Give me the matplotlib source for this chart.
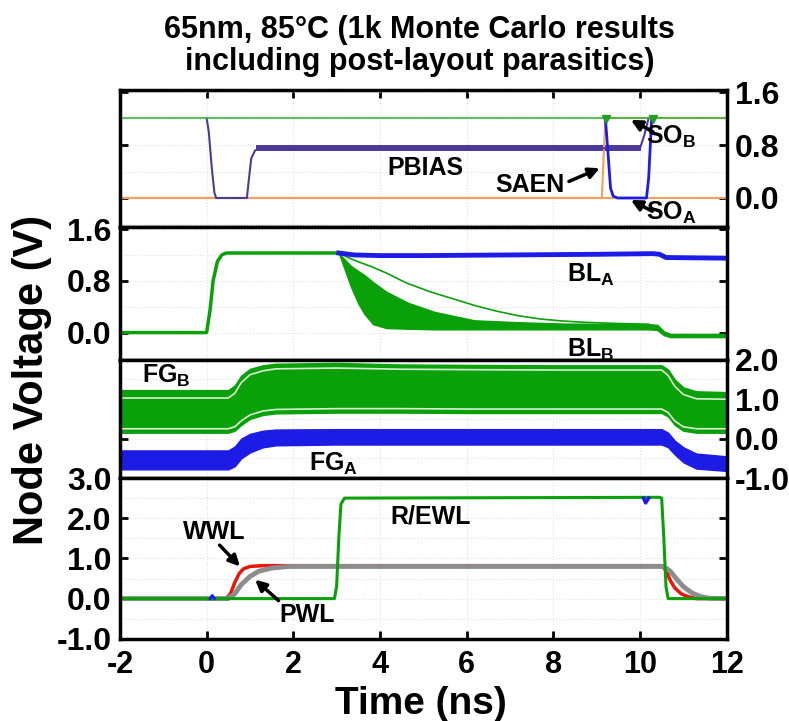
import numpy as np
import matplotlib.pyplot as plt
from matplotlib.ticker import MultipleLocator

# 字体设置
plt.rcParams['font.family'] = ['Liberation Sans', 'DejaVu Sans']
plt.rcParams['font.weight'] = 'bold'
plt.rcParams['axes.unicode_minus'] = False
plt.rcParams['mathtext.fontset'] = 'custom'
plt.rcParams['mathtext.rm'] = 'Liberation Sans:bold'
plt.rcParams['mathtext.it'] = 'Liberation Sans:bold'
plt.rcParams['mathtext.bf'] = 'Liberation Sans:bold'

# ---------------- 数据 ----------------
# 面板1: PBIAS / SAEN / SO
vdd_t = [-2, 12]
vdd_v = [1.21, 1.21]
pbias_t = [0.0, 0.05, 0.12, 0.18, 0.22, 0.93, 0.97, 1.03, 1.12, 1.3, 10.0, 10.1, 10.2]
pbias_v = [1.21, 1.0, 0.45, 0.08, 0.0, 0.0, 0.25, 0.6, 0.72, 0.75, 0.75, 0.95, 1.21]
pbias_band_t = [1.15, 10.02]
pbias_band_lo = [0.71, 0.71]
pbias_band_hi = [0.80, 0.80]
saen_t = [-2, 9.12, 9.16, 9.2, 12]
saen_v = [0, 0, 0.6, 1.21, 1.21]
sa_base_t = [-2, 12]
sa_base_v = [0, 0]
soa_t = [9.2, 9.26, 9.32, 9.38, 9.48, 10.15, 10.2, 10.27]
soa_v = [1.21, 0.7, 0.15, 0.03, 0.0, 0.0, 0.3, 1.21]
sob_t = [9.22, 10.3]
sob_v = [1.19, 1.19]

# 面板2: BL
blb_t = [-2, 0.0, 0.08, 0.15, 0.25, 0.35, 0.45, 3.05]
blb_v = [0, 0, 0.35, 0.8, 1.1, 1.2, 1.23, 1.23]
band_t = [3.05, 3.2, 3.33, 3.5, 3.64, 3.84, 4.15, 4.65, 5.26, 6.18, 7.2, 8.2, 10.2, 10.4, 10.55, 10.7, 12.0]
band_hi = [1.23, 1.12, 1.03, 0.95, 0.89, 0.78, 0.63, 0.46, 0.32, 0.19, 0.16, 0.14, 0.13, 0.12, 0.02, -0.02, -0.02]
band_lo = [1.23, 0.95, 0.71, 0.45, 0.29, 0.13, 0.07, 0.06, 0.05, 0.05, 0.05, 0.05, 0.05, 0.04, -0.04, -0.07, -0.07]
blo_t = [3.05, 3.4, 3.8, 4.15, 4.6, 5.16, 5.7, 6.18, 6.7, 7.2, 7.7, 8.2, 8.7, 9.5, 10.2]
blo_v = [1.23, 1.12, 1.02, 0.92, 0.77, 0.63, 0.52, 0.42, 0.33, 0.26, 0.21, 0.18, 0.16, 0.14, 0.13]
bla_t = [3.05, 3.4, 4.0, 5.0, 7.0, 9.0, 10.3, 10.45, 10.6, 12]
bla_v = [1.23, 1.2, 1.19, 1.19, 1.2, 1.21, 1.22, 1.21, 1.16, 1.15]

# 面板3: FG
fg_t = [-2, 0.5, 0.65, 0.8, 1.0, 1.3, 1.6, 3.0, 4.5, 6.0, 8.0, 10.5, 10.65, 10.8, 11.0, 11.3, 12]
fgb_hi = [1.23, 1.23, 1.35, 1.6, 1.77, 1.86, 1.9, 1.92, 1.88, 1.87, 1.86, 1.86, 1.75, 1.5, 1.3, 1.2, 1.18]
fgb_w1 = [1.03, 1.03, 1.15, 1.42, 1.62, 1.72, 1.77, 1.79, 1.76, 1.75, 1.74, 1.74, 1.6, 1.33, 1.12, 1.01, 1.0]
fgb_w2 = [0.25, 0.25, 0.3, 0.45, 0.6, 0.7, 0.74, 0.76, 0.76, 0.75, 0.75, 0.75, 0.66, 0.45, 0.3, 0.25, 0.25]
fgb_lo = [0.15, 0.15, 0.2, 0.35, 0.5, 0.6, 0.64, 0.66, 0.66, 0.65, 0.65, 0.65, 0.56, 0.35, 0.2, 0.15, 0.15]
fga_hi = [-0.3, -0.3, -0.2, 0.0, 0.12, 0.2, 0.23, 0.24, 0.24, 0.24, 0.24, 0.24, 0.15, -0.05, -0.22, -0.38, -0.45]
fga_lo = [-0.78, -0.78, -0.7, -0.5, -0.35, -0.22, -0.17, -0.15, -0.15, -0.15, -0.15, -0.15, -0.22, -0.4, -0.6, -0.76, -0.82]

# 面板4: WL
rewl_t = [-2, 2.95, 3.0, 3.05, 3.1, 3.18, 10.45, 10.5, 10.55, 10.6, 10.65, 12]
rewl_v = [0, 0, 0.3, 1.5, 2.35, 2.5, 2.52, 2.5, 1.5, 0.3, 0, 0]
wwl_t = [-2, 0.45, 0.55, 0.65, 0.75, 0.85, 1.0, 1.3, 10.5, 10.6, 10.7, 10.8, 10.95, 11.1, 11.3, 12]
wwl_v = [0, 0, 0.12, 0.4, 0.62, 0.74, 0.8, 0.82, 0.82, 0.7, 0.45, 0.27, 0.12, 0.05, 0, 0]
pwl_t = [-2, 0.5, 0.65, 0.8, 1.0, 1.2, 1.5, 1.9, 10.55, 10.7, 10.85, 11.0, 11.2, 11.4, 11.6, 12]
pwl_v = [0, 0, 0.12, 0.35, 0.55, 0.68, 0.76, 0.8, 0.8, 0.68, 0.48, 0.3, 0.14, 0.05, 0.01, 0]
blip1_t = [0.08, 0.13, 0.18]
blip1_v = [0, 0.08, 0]
blip2_t = [10.08, 10.13, 10.2]
blip2_v = [2.5, 2.38, 2.5]

# 颜色
green = '#0aa00a'
blue = '#1c1ce6'
purple = '#4b3b96'
orange = '#f5a05a'
red = '#e8160c'
gray = '#8c8c8c'

arrow = dict(arrowstyle='-|>', color='k', lw=2.5, mutation_scale=16, shrinkA=0, shrinkB=0)
lab = 18

fig = plt.figure(figsize=(7.89, 7.21), dpi=100)
L, W = 0.152, 0.769
ax1 = fig.add_axes([L, 0.685, W, 0.190])
ax2 = fig.add_axes([L, 0.501, W, 0.184])
ax3 = fig.add_axes([L, 0.337, W, 0.164])
ax4 = fig.add_axes([L, 0.114, W, 0.223])

for ax in [ax1, ax2, ax3, ax4]:
    ax.set_xlim(-2, 12)
    ax.xaxis.set_major_locator(MultipleLocator(2))
    ax.grid(True, which='both', color='#e2e2e2', lw=0.8, ls=':')
    ax.set_axisbelow(True)
    for s in ax.spines.values():
        s.set_linewidth(2.5)
    ax.tick_params(direction='in', length=6, width=2, labelsize=23, pad=6)
    ax.tick_params(axis='x', bottom=False, labelbottom=False)
    ax.tick_params(axis='y', which='minor', length=0)

# 面板1
ax1.plot(sa_base_t, sa_base_v, color=orange, lw=1.5)
ax1.plot(saen_t, saen_v, color=orange, lw=1.5)
ax1.plot(pbias_t, pbias_v, color=purple, lw=1.5)
ax1.fill_between(pbias_band_t, pbias_band_lo, pbias_band_hi, color=purple, lw=0)
ax1.plot(vdd_t, vdd_v, color='#3cb43c', lw=1.2)
ax1.plot(soa_t, soa_v, color=blue, lw=2)
ax1.plot(sob_t, sob_v, 'v', color='#22a022', ms=6)
ax1.set_ylim(-0.44, 1.63)
ax1.set_yticks([0.0, 0.8, 1.6])
ax1.yaxis.set_minor_locator(MultipleLocator(0.4))
ax1.tick_params(axis='y', left=True, labelleft=False, right=True, labelright=True)
ax1.tick_params(axis='x', top=True)
ax1.text(5.06, 0.45, 'PBIAS', fontsize=lab, ha='center', va='center')
ax1.text(7.45, 0.2, 'SAEN', fontsize=lab, ha='center', va='center')
ax1.annotate('', xy=(9.07, 0.45), xytext=(8.36, 0.25), arrowprops=arrow)
ax1.text(10.72, 0.92, r'SO$_{\rm B}$', fontsize=lab, ha='center', va='center')
ax1.annotate('', xy=(9.79, 1.18), xytext=(10.3, 1.0), arrowprops=arrow)
ax1.text(10.72, -0.23, r'SO$_{\rm A}$', fontsize=lab, ha='center', va='center')
ax1.annotate('', xy=(9.79, -0.03), xytext=(10.28, -0.2), arrowprops=arrow)

# 面板2
ax2.plot(blb_t, blb_v, color=green, lw=2.5)
ax2.fill_between(band_t, band_lo, band_hi, color=green, lw=1)
ax2.plot(blo_t, blo_v, color=green, lw=1.2)
ax2.plot(bla_t, bla_v, color=blue, lw=3.5)
ax2.set_ylim(-0.42, 1.63)
ax2.set_yticks([0.0, 0.8, 1.6])
ax2.yaxis.set_minor_locator(MultipleLocator(0.4))
ax2.tick_params(axis='y', left=True, labelleft=True, right=True, labelright=False)
ax2.text(8.87, 0.89, r'BL$_{\rm A}$', fontsize=lab, ha='center', va='center')
ax2.text(8.87, -0.26, r'BL$_{\rm B}$', fontsize=lab, ha='center', va='center')

# 面板3
ax3.fill_between(fg_t, fgb_lo, fgb_hi, color=green, lw=1)
ax3.plot(fg_t, fgb_w1, color='#d8f0d0', lw=1.2)
ax3.plot(fg_t, fgb_w2, color='#d8f0d0', lw=1.2)
ax3.fill_between(fg_t, fga_lo, fga_hi, color=blue, lw=1)
ax3.set_ylim(-1, 2)
ax3.set_yticks([-1.0, 0.0, 1.0, 2.0])
ax3.set_yticklabels(['-1.0', '0.0', '1.0', '2.0'])
ax3.yaxis.set_minor_locator(MultipleLocator(0.5))
ax3.tick_params(axis='y', left=True, labelleft=False, right=True, labelright=True)
ax3.text(-0.94, 1.58, r'FG$_{\rm B}$', fontsize=lab, ha='center', va='center')
ax3.text(2.93, -0.65, r'FG$_{\rm A}$', fontsize=lab, ha='center', va='center')

# 面板4
ax4.plot(wwl_t, wwl_v, color=red, lw=2.5)
ax4.plot(pwl_t, pwl_v, color=gray, lw=3.5)
ax4.plot(rewl_t, rewl_v, color=green, lw=2.2)
ax4.plot(blip1_t, blip1_v, color=blue, lw=2)
ax4.plot(blip2_t, blip2_v, color=blue, lw=2.5)
ax4.set_ylim(-1, 3)
ax4.set_yticks([-1.0, 0.0, 1.0, 2.0, 3.0])
ax4.set_yticklabels(['-1.0', '0.0', '1.0', '2.0', '3.0'])
ax4.yaxis.set_minor_locator(MultipleLocator(0.5))
ax4.tick_params(axis='y', left=True, labelleft=True, right=True, labelright=False)
ax4.tick_params(axis='x', bottom=True, labelbottom=True, labelsize=22, pad=8)
ax4.text(5.16, 2.04, 'R/EWL', fontsize=lab, ha='center', va='center')
ax4.text(0.18, 1.66, 'WWL', fontsize=lab, ha='center', va='center')
ax4.annotate('', xy=(0.77, 0.8), xytext=(0.3, 1.33), arrowprops=arrow)
ax4.text(2.32, -0.42, 'PWL', fontsize=lab, ha='center', va='center')
ax4.annotate('', xy=(1.12, 0.47), xytext=(1.66, -0.05), arrowprops=arrow)

# 标题与坐标轴标签
fig.text(0.532, 0.958, '65nm, 85°C (1k Monte Carlo results', fontsize=22, ha='center', va='center')
fig.text(0.532, 0.914, 'including post-layout parasitics)', fontsize=22, ha='center', va='center')
fig.text(0.040, 0.473, 'Node Voltage (V)', fontsize=30, rotation=90, ha='center', va='center')
fig.text(0.534, 0.023, 'Time (ns)', fontsize=28, ha='center', va='center')

plt.savefig('out.png', dpi=100)
